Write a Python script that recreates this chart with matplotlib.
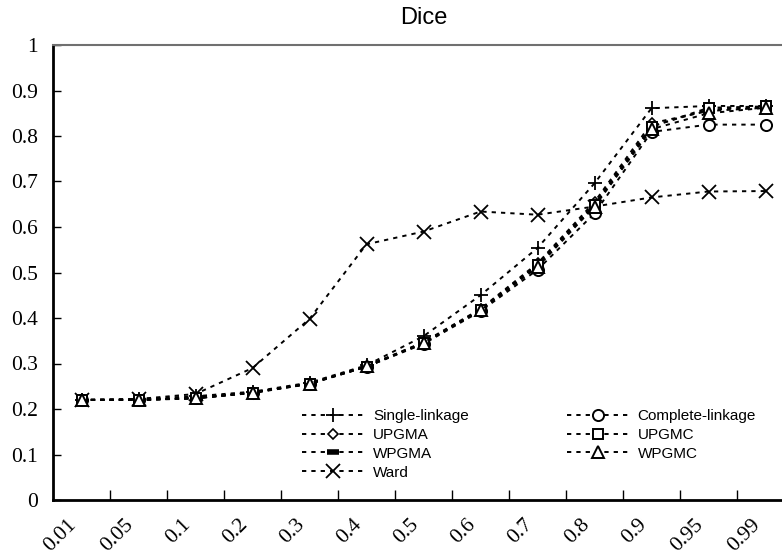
import numpy as np
import matplotlib
matplotlib.use('Agg')
import matplotlib.pyplot as plt
from matplotlib.transforms import ScaledTranslation

# Umbrales (eje x categórico)
umbrales = ['0.01', '0.05', '0.1', '0.2', '0.3', '0.4', '0.5',
            '0.6', '0.7', '0.8', '0.9', '0.95', '0.99']

# Valores Dice por método de agrupamiento
single = [0.220, 0.222, 0.228, 0.238, 0.258, 0.296, 0.360, 0.450, 0.554, 0.696, 0.861, 0.866, 0.866]
complete = [0.220, 0.220, 0.224, 0.235, 0.255, 0.293, 0.343, 0.415, 0.506, 0.630, 0.809, 0.825, 0.825]
upgma = [0.220, 0.220, 0.224, 0.236, 0.256, 0.294, 0.347, 0.420, 0.520, 0.655, 0.828, 0.855, 0.862]
upgmc = [0.220, 0.220, 0.224, 0.236, 0.256, 0.293, 0.345, 0.418, 0.516, 0.648, 0.820, 0.862, 0.865]
wpgma = [0.220, 0.220, 0.223, 0.236, 0.255, 0.293, 0.345, 0.418, 0.518, 0.650, 0.822, 0.858, 0.864]
wpgmc = [0.220, 0.220, 0.224, 0.236, 0.256, 0.294, 0.346, 0.417, 0.512, 0.645, 0.815, 0.850, 0.862]
ward = [0.220, 0.222, 0.233, 0.290, 0.398, 0.562, 0.590, 0.634, 0.627, 0.645, 0.665, 0.678, 0.679]

fig = plt.figure(figsize=(7.82, 5.57), dpi=100)
ax = fig.add_axes([53/782, 57/557, 741/782, 455/557])

x = np.arange(len(umbrales))
estilo = dict(color='black', linestyle=(0, (2.2, 2.6)), linewidth=1.4)

series = [
    (single, '+', 'Single-linkage', dict(markersize=10, markeredgewidth=1.3)),
    (upgma, 'D', 'UPGMA', dict(markersize=5.5, markerfacecolor='white', markeredgewidth=1.2)),
    (wpgma, '_', 'WPGMA', dict(markersize=9, markeredgewidth=4)),
    (ward, 'x', 'Ward', dict(markersize=10, markeredgewidth=1.3)),
    (complete, 'o', 'Complete-linkage', dict(markersize=8, markerfacecolor='white', markeredgewidth=1.4)),
    (upgmc, 's', 'UPGMC', dict(markersize=7.5, markerfacecolor='white', markeredgewidth=1.4)),
    (wpgmc, '^', 'WPGMC', dict(markersize=8, markerfacecolor='white', markeredgewidth=1.4)),
]

for valores, marcador, nombre, extra in series:
    ax.plot(x, valores, marker=marcador, label=nombre, markeredgecolor='black', **estilo, **extra)

# Ejes
ax.set_xlim(-0.5, len(umbrales) - 0.5)
ax.set_ylim(0, 1)
ax.set_yticks(np.arange(0, 1.01, 0.1))
ax.set_yticklabels(['0', '0.1', '0.2', '0.3', '0.4', '0.5', '0.6', '0.7', '0.8', '0.9', '1'],
                   family='Liberation Serif', fontsize=15.5)
ax.yaxis.set_tick_params(direction='in', length=6, width=1, pad=11)

# Marcas entre categorías, etiquetas en el centro
ax.set_xticks(x[:-1] + 0.5)
ax.set_xticklabels([])
ax.xaxis.set_tick_params(which='major', direction='in', length=7, width=1)
ax.set_xticks(x, minor=True)
ax.set_xticklabels(umbrales, minor=True, rotation=45, ha='right', va='top',
                   rotation_mode='anchor', family='Liberation Serif', fontsize=15.5)
ax.xaxis.set_tick_params(which='minor', length=0, pad=11)
desplaza = ScaledTranslation(-10.5/72, 0, fig.dpi_scale_trans)
for etiqueta in ax.get_xticklabels(minor=True):
    etiqueta.set_transform(etiqueta.get_transform() + desplaza)

ax.spines['left'].set_linewidth(2)
ax.spines['bottom'].set_linewidth(2)
ax.spines['top'].set_color('#707070')
ax.spines['top'].set_linewidth(1.5)
ax.spines['right'].set_visible(False)

ax.set_title('Dice', family='Liberation Sans', fontsize=17, pad=15)

leg = ax.legend(ncol=2, loc='upper left', bbox_to_anchor=(0.336, 0.200), frameon=False,
                prop={'family': 'Liberation Sans', 'size': 11},
                handlelength=4.1, handletextpad=0.55, columnspacing=6.4,
                labelspacing=0.32, borderpad=0, borderaxespad=0)

fig.savefig('out.png', dpi=100)
